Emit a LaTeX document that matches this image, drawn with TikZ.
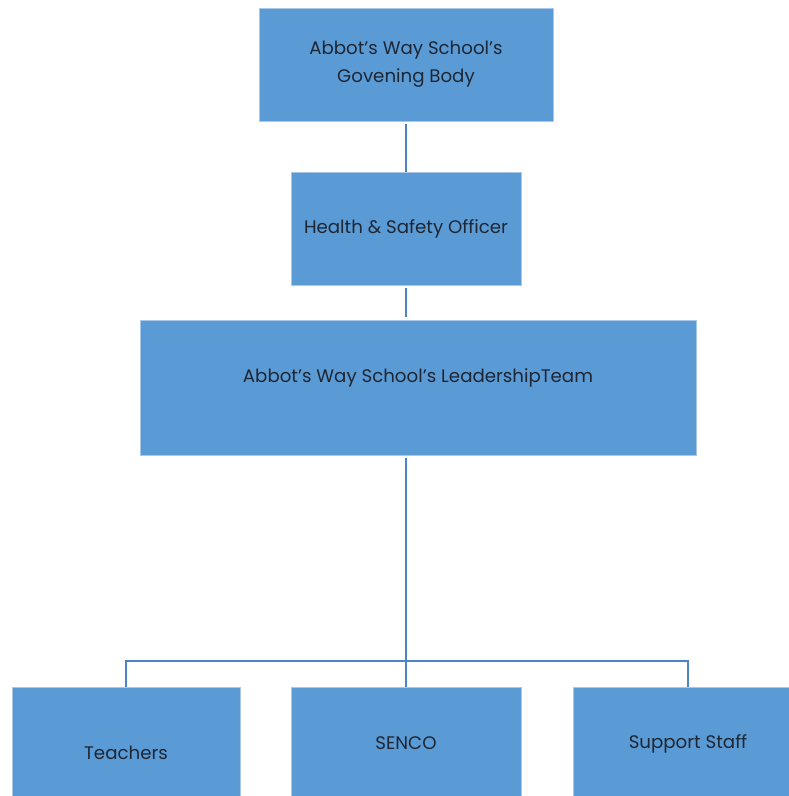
\documentclass[tikz,border=0pt]{standalone}
\usepackage{fontspec}
\setmainfont{Poppins}
\definecolor{boxfill}{HTML}{5B9BD5}
\definecolor{boxedge}{HTML}{A9C8E8}
\definecolor{linec}{HTML}{4A86C5}
\definecolor{txt}{HTML}{1E2633}
\begin{document}
\begin{tikzpicture}[x=1pt,y=-1pt,
  orgbox/.style={rectangle, fill=boxfill, draw=boxedge, line width=0.8pt,
    text=txt, align=center, inner sep=0pt,
    font=\fontsize{18.2}{28}\selectfont},
  conn/.style={draw=linec, line width=1.8pt}]
\useasboundingbox (0,0) rectangle (789,796);
\clip (0,0) rectangle (789,796);
\node[orgbox, minimum width=294pt, minimum height=113pt] (gov) at (406,64.5)
  {Abbot's Way School's\\Govening Body};
\node[orgbox, minimum width=230pt, minimum height=113pt] (hso) at (406,228.5)
  {Health \& Safety Officer};
\node[orgbox, minimum width=556pt, minimum height=135pt] (lead) at (418,387.5)
  {\raisebox{9.5pt}[\height][\depth]{Abbot's Way School's LeadershipTeam}};
\node[orgbox, minimum width=228pt, minimum height=113pt] (teach) at (126,743.5)
  {\raisebox{-9pt}[\height][\depth]{Teachers}};
\node[orgbox, minimum width=230pt, minimum height=113pt] (senco) at (406,743.5)
  {SENCO};
\node[orgbox, minimum width=230pt, minimum height=113pt] (supp) at (688,743.5)
  {Support Staff};
\coordinate (junc) at (406,661);
\draw[conn, shorten <=3pt] (gov.south) -- (hso.north);
\draw[conn, shorten <=3pt, shorten >=3pt] (hso.south) -- (hso.south |- lead.north);
\draw[conn, shorten <=3pt] (hso.south |- lead.south) -- (junc);
\draw[conn] (junc) -- (junc -| teach.north) -- (teach.north);
\draw[conn] (junc) -- (junc -| supp.north) -- (supp.north);
\draw[conn] (junc) -- (senco.north);
\end{tikzpicture}
\end{document}
